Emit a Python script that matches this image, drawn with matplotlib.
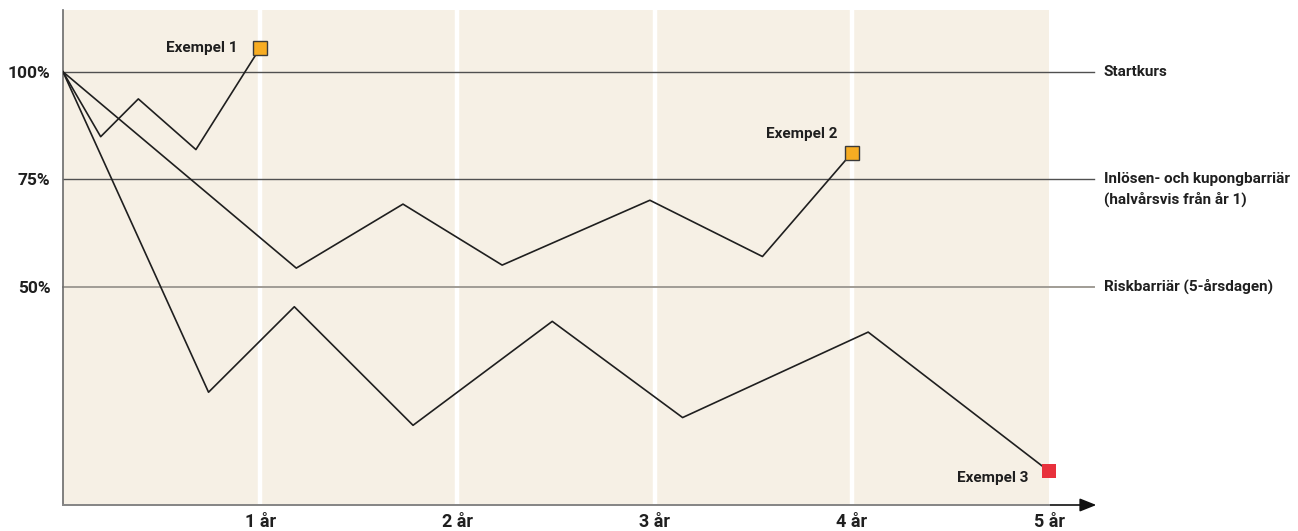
import matplotlib.pyplot as plt

plt.rcParams['font.family'] = ['Roboto', 'DejaVu Sans']

# data (years, % of start price)
ex1_x = [0, 0.191, 0.382, 0.674, 1.0]
ex1_y = [100, 84.9, 93.7, 81.9, 105.6]
ex2_x = [0, 1.183, 1.724, 2.227, 2.976, 3.547, 4.0]
ex2_y = [100, 54.3, 69.2, 55.0, 70.1, 57.0, 81.1]
ex3_x = [0, 0.738, 1.173, 1.775, 2.481, 3.142, 4.083, 5.0]
ex3_y = [100, 25.4, 45.3, 17.7, 41.9, 19.5, 39.4, 7.0]

years = [1, 2, 3, 4, 5]
year_labels = ['1 år', '2 år', '3 år', '4 år', '5 år']
levels = [100, 75, 50]
level_labels = ['100%', '75%', '50%']
barrier_names = ['Startkurs', 'Inlösen- och kupongbarriär', 'Riskbarriär (5-årsdagen)']

beige = '#F6F0E5'
orange = '#F7AC22'
red = '#E8313C'
ink = '#1f1f1f'

fig = plt.figure(figsize=(12.98, 5.31), dpi=100)
ax = fig.add_axes([63 / 1298, 1 - 505 / 531, (1049 - 63) / 1298, 495 / 531])
ax.set_facecolor(beige)
ax.set_xlim(0, 5)
ax.set_ylim(-0.86, 114.4)

for s in ['top', 'right']:
    ax.spines[s].set_visible(False)
ax.spines['bottom'].set_visible(False)
ax.spines['left'].set_color('#6b6b6b')
ax.spines['left'].set_linewidth(1.2)

# white year separators
for yr in years[:-1]:
    ax.axvline(yr, color='white', lw=3.2, zorder=1)

# barrier lines, extended past the plot
xend = 5.227
ax.plot([0, xend], [100, 100], color='#505050', lw=1.0, clip_on=False, zorder=2)
ax.plot([0, xend], [75, 75], color='#505050', lw=1.0, clip_on=False, zorder=2)
ax.plot([0, xend], [50, 50], color='#a09c95', lw=1.4, clip_on=False, zorder=2)

# x axis with arrow
y0 = -0.86
ax.annotate('', xy=(5.24, y0), xytext=(0, y0),
            arrowprops=dict(arrowstyle='-|>,head_length=1.0,head_width=0.4',
                            color='#111111', lw=1.2, shrinkA=0, shrinkB=0),
            annotation_clip=False, zorder=3)
ax.plot([0, 5.0], [y0, y0], color='#8a8a8a', lw=1.4, clip_on=False, zorder=3)

# example paths
ax.plot(ex1_x, ex1_y, color=ink, lw=1.2, zorder=4)
ax.plot(ex2_x, ex2_y, color=ink, lw=1.2, zorder=4)
ax.plot(ex3_x, ex3_y, color=ink, lw=1.2, zorder=4)

ax.plot(ex1_x[-1], ex1_y[-1], 's', ms=10, mfc=orange, mec='#3a3a3a', mew=1.0, zorder=5, clip_on=False)
ax.plot(ex2_x[-1], ex2_y[-1], 's', ms=10, mfc=orange, mec='#3a3a3a', mew=1.0, zorder=5, clip_on=False)
ax.plot(ex3_x[-1], ex3_y[-1], 's', ms=10.5, mfc=red, mec=red, mew=0, zorder=5, clip_on=False)

tfont = dict(fontsize=11, fontweight='bold', color=ink)
ax.text(0.885, 105.6, 'Exempel 1', ha='right', va='center', **tfont)
ax.text(3.927, 85.5, 'Exempel 2', ha='right', va='center', **tfont)
ax.text(4.897, 5.5, 'Exempel 3', ha='right', va='center', **tfont)

# right side labels
lx = 5.278
ax.text(lx, 100, barrier_names[0], ha='left', va='center', clip_on=False, **tfont)
ax.text(lx, 75, barrier_names[1], ha='left', va='center', clip_on=False, **tfont)
ax.text(lx, 70.4, '(halvårsvis från år 1)', ha='left', va='center', clip_on=False, **tfont)
ax.text(lx, 50, barrier_names[2], ha='left', va='center', clip_on=False, **tfont)

ax.set_yticks(levels)
ax.set_yticklabels(level_labels)
ax.set_xticks(years)
ax.set_xticklabels(year_labels)
ax.tick_params(axis='y', length=0, pad=9, labelsize=12.5)
ax.tick_params(axis='x', length=0, pad=6, labelsize=13)
for lab in ax.get_xticklabels() + ax.get_yticklabels():
    lab.set_fontweight('bold')
    lab.set_color(ink)

fig.savefig('out.png', dpi=100, facecolor='white')
